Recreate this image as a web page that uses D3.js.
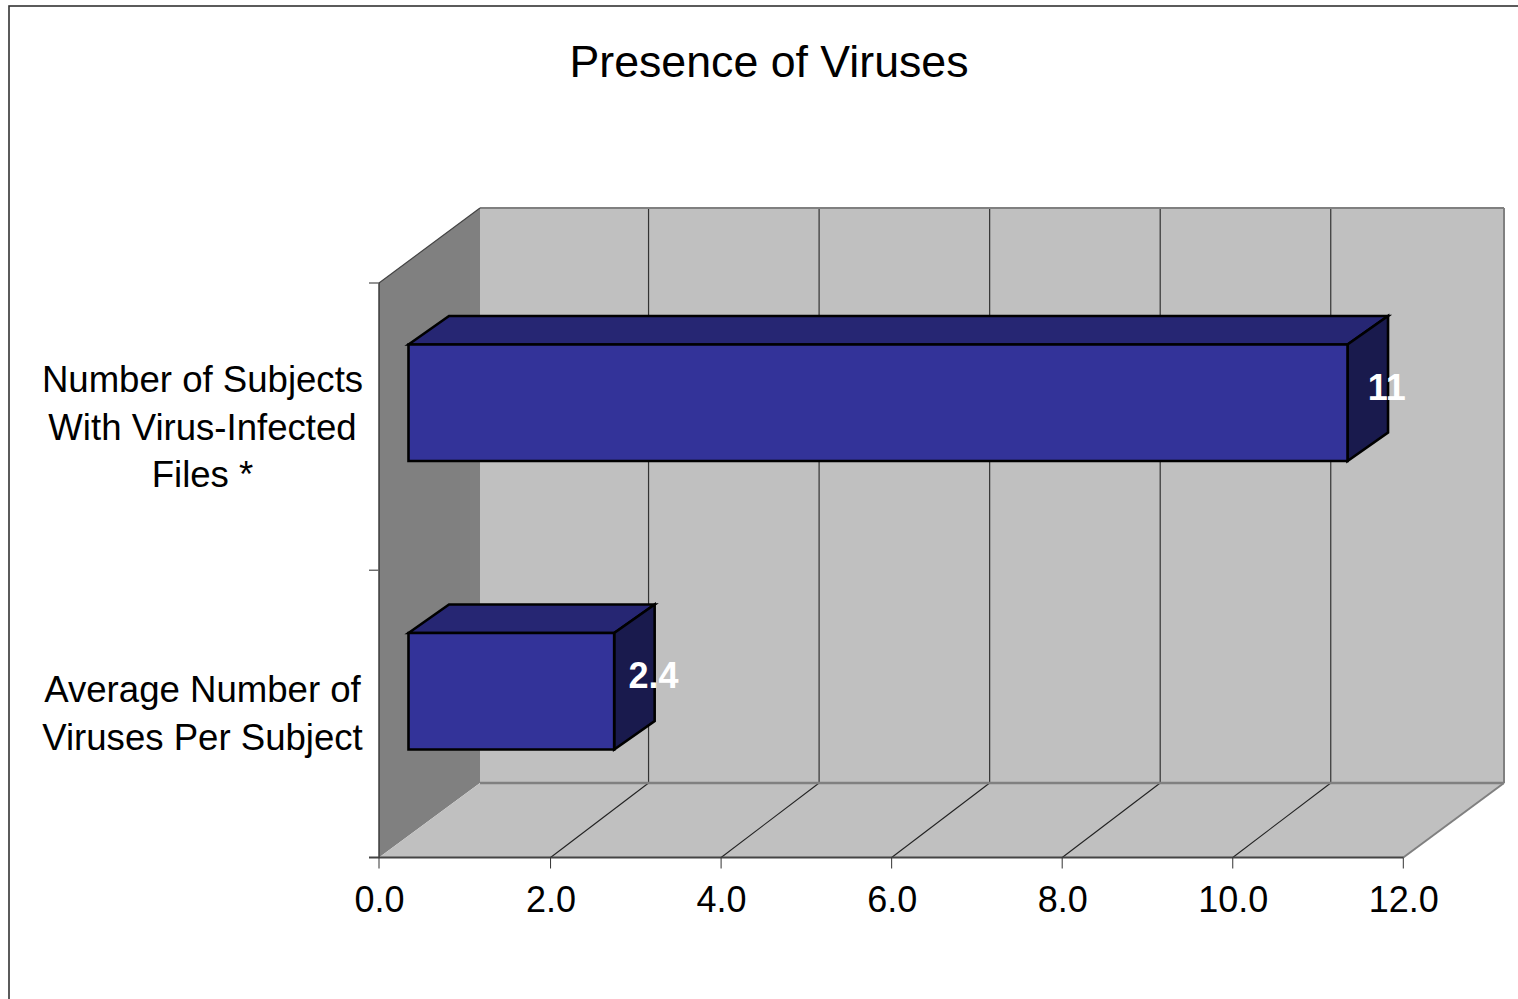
<!DOCTYPE html>
<html><head><meta charset="utf-8">
<script src="https://cdn.jsdelivr.net/npm/d3@7"></script>
<style>html,body{margin:0;padding:0;background:#fff;overflow:hidden}svg{display:block}text{font-family:"Liberation Sans",Arial,sans-serif}</style>
</head><body><svg id="c" width="1518" height="999"></svg>
<script>
const categories = [["Number of Subjects","With Virus-Infected","Files *"],["Average Number of","Viruses Per Subject"]];
const categoryKeys = ["Number of Subjects With Virus-Infected Files *","Average Number of Viruses Per Subject"];
const values = [11, 2.4];
const valueLabels = ["11","2.4"];
const xTicks = [0,2,4,6,8,10,12];
const title = "Presence of Viruses";

const svg = d3.select("#c");
const x = d3.scaleLinear().domain([0,12]).range([380,1403.3]);
const yAxisBand = d3.scaleBand().domain(categoryKeys).range([283,857.5]);
const yBarBand = d3.scaleBand().domain(categoryKeys).range([280.5,857.5]);
const floorY = 857.5, topY = 283;
const depthX = 100, depthY = 74.5;
const barStart = 0.295, barH = 116.5, barDx = 40.5, barDy = 28.5;
const gridDx = 98;

const poly = (pts,fill,stroke,sw)=>svg.append("polygon")
  .attr("points",pts.map(p=>p.join(",")).join(" "))
  .attr("fill",fill).attr("stroke",stroke||"none").attr("stroke-width",sw||0).attr("stroke-linejoin","miter");
const line = (a,b,stroke,sw)=>svg.append("line").attr("x1",a[0]).attr("y1",a[1]).attr("x2",b[0]).attr("y2",b[1]).attr("stroke",stroke).attr("stroke-width",sw);

// outer frame
svg.append("rect").attr("x",9).attr("y",6).attr("width",1600).attr("height",1100).attr("fill","#fff").attr("stroke","#333").attr("stroke-width",1.6);

const L = x(0)-1, R = x(12), BL = L+101, BR = R+100.7;
const backTop = topY-depthY-0.5, backBot = floorY-depthY;

// side wall, back wall, floor
poly([[L,topY],[BL,backTop],[BL,backBot],[L,floorY]],"#808080");
poly([[BL,backTop],[BR,backTop],[BR,backBot],[BL,backBot]],"#C0C0C0");
poly([[L,floorY],[BL,backBot],[BR,backBot],[R,floorY]],"#C0C0C0");

// gridlines on back wall and floor
xTicks.slice(1,-1).forEach(t=>{
  const fx=x(t), bx=fx+gridDx;
  line([bx,backTop],[bx,backBot],"#333",1.2);
  line([fx,floorY],[bx,backBot],"#222",1.1);
});
// wall edges
line([BL,backTop],[BR,backTop],"#808080",2);
line([BR,backTop],[BR,backBot],"#808080",2);
line([BL,backBot],[BR,backBot],"#808080",2.4);
line([R,floorY],[BR,backBot],"#808080",2);
line([L,topY],[BL,backTop],"#444",1.2);

// axes
line([L,topY],[L,floorY],"#333",1.4);
line([L-10,floorY],[R,floorY],"#444",1.8);
xTicks.forEach(t=>{
  const px = t===0 ? L : x(t);
  line([px,floorY],[px,floorY+11],"#333",1);
  svg.append("text").attr("x",px+0.5).attr("y",912).attr("text-anchor","middle")
    .attr("font-size",36).attr("fill","#000").text(d3.format(".1f")(t));
});
[yAxisBand(categoryKeys[0]),yAxisBand(categoryKeys[1])].forEach(p=>line([L-10,p],[L,p],"#666",1.4));

// bars
categoryKeys.forEach((k,i)=>{
  const cy = yBarBand(k)+yBarBand.bandwidth()/2 - depthY*barStart;
  const x0 = x(0)+depthX*barStart - 1, x1 = x(values[i])+depthX*barStart;
  const top = cy-barH/2, bot = cy+barH/2;
  const s="#000", w=2.6;
  poly([[x0,top],[x0+barDx,top-barDy],[x1+barDx,top-barDy],[x1,top]],"#262673",s,w);
  poly([[x1,top],[x1+barDx,top-barDy],[x1+barDx,bot-barDy],[x1,bot]],"#191A4D",s,w);
  poly([[x0,top],[x1,top],[x1,bot],[x0,bot]],"#333399",s,w);
  svg.append("text").attr("x",x1+barDx/2+19).attr("y",cy-16).attr("dy","0.36em").attr("text-anchor","middle")
    .attr("font-size",36).attr("font-weight","bold").attr("fill","#fff").text(valueLabels[i]);
});

// category labels
const lineH = 47.5, firstBase=[392,702];
categories.forEach((ls,i)=>{
  const t = svg.append("text").attr("text-anchor","middle").attr("font-size",36.6).attr("fill","#000");
  ls.forEach((s,j)=>t.append("tspan").attr("x",202.5).attr("y",firstBase[i]+j*lineH).text(s));
});

svg.append("text").attr("x",769).attr("y",77).attr("text-anchor","middle").attr("font-size",44.7).attr("fill","#000").text(title);
</script></body></html>
